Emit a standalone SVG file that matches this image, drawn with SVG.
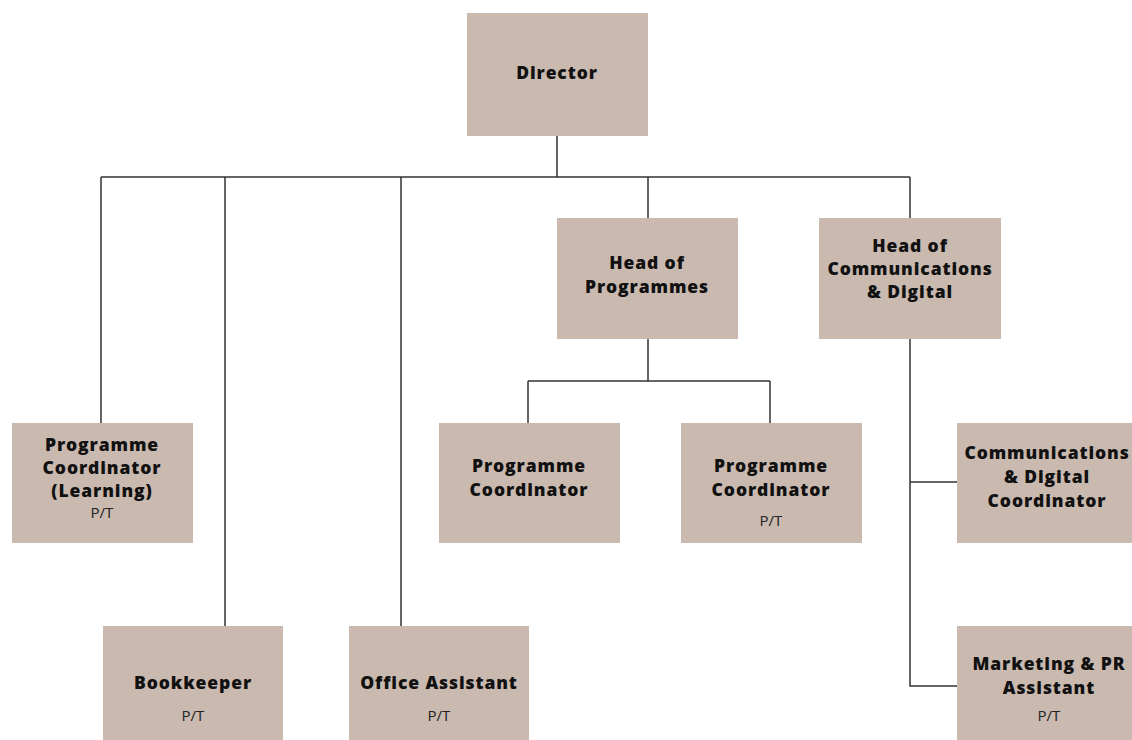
<svg xmlns="http://www.w3.org/2000/svg" width="1132" height="740" viewBox="0 0 1132 740">
<style>
.box{fill:#c9b9af}
.t{font-family:"Open Sans",Lato,"Liberation Sans",sans-serif;font-weight:800;font-size:17.5px;letter-spacing:0.9px;fill:#111;text-anchor:middle}
.s{font-family:"Open Sans",Lato,"Liberation Sans",sans-serif;font-weight:400;font-size:15px;fill:#222;text-anchor:middle}
.c{fill:none;stroke:#333;stroke-width:1.5}
</style>
<rect width="1132" height="740" fill="#fff"/>
<g id="connectors">
<path class="c" d="M557 136V177M101 177H910M101 177V423M225 177V626M401 177V626M648 177V218M910 177V218"/>
<path class="c" d="M648 339V381M528 381H770M528 381V423M770 381V423"/>
<path class="c" d="M910 339V686H957M910 482H957"/>
</g>
<g id="director"><rect class="box" x="467" y="13" width="181" height="123"/><text class="t" x="557" y="79">Director</text></g>
<g id="head-programmes"><rect class="box" x="557" y="218" width="181" height="121"/><text class="t" x="647" y="269">Head of</text><text class="t" x="647" y="293">Programmes</text></g>
<g id="head-comms"><rect class="box" x="819" y="218" width="182" height="121"/><text class="t" x="910" y="252">Head of</text><text class="t" x="910" y="275">Communications</text><text class="t" x="910" y="298">&amp; Digital</text></g>
<g id="pc-learning"><rect class="box" x="12" y="423" width="181" height="120"/><text class="t" x="102" y="451">Programme</text><text class="t" x="102" y="474">Coordinator</text><text class="t" x="102" y="497">(Learning)</text><text class="s" x="102" y="518">P/T</text></g>
<g id="pc1"><rect class="box" x="439" y="423" width="181" height="120"/><text class="t" x="529" y="472">Programme</text><text class="t" x="529" y="496">Coordinator</text></g>
<g id="pc2"><rect class="box" x="681" y="423" width="181" height="120"/><text class="t" x="771" y="472">Programme</text><text class="t" x="771" y="496">Coordinator</text><text class="s" x="771" y="526">P/T</text></g>
<g id="comms-coord"><rect class="box" x="957" y="423" width="190" height="120"/><text class="t" x="1047" y="459">Communications</text><text class="t" x="1047" y="483">&amp; Digital</text><text class="t" x="1047" y="507">Coordinator</text></g>
<g id="bookkeeper"><rect class="box" x="103" y="626" width="180" height="120"/><text class="t" x="193" y="689">Bookkeeper</text><text class="s" x="193" y="721">P/T</text></g>
<g id="office-assistant"><rect class="box" x="349" y="626" width="180" height="120"/><text class="t" x="439" y="689">Office Assistant</text><text class="s" x="439" y="721">P/T</text></g>
<g id="marketing"><rect class="box" x="957" y="626" width="190" height="120"/><text class="t" x="1049" y="670">Marketing &amp; PR</text><text class="t" x="1049" y="694">Assistant</text><text class="s" x="1049" y="721">P/T</text></g>
</svg>
